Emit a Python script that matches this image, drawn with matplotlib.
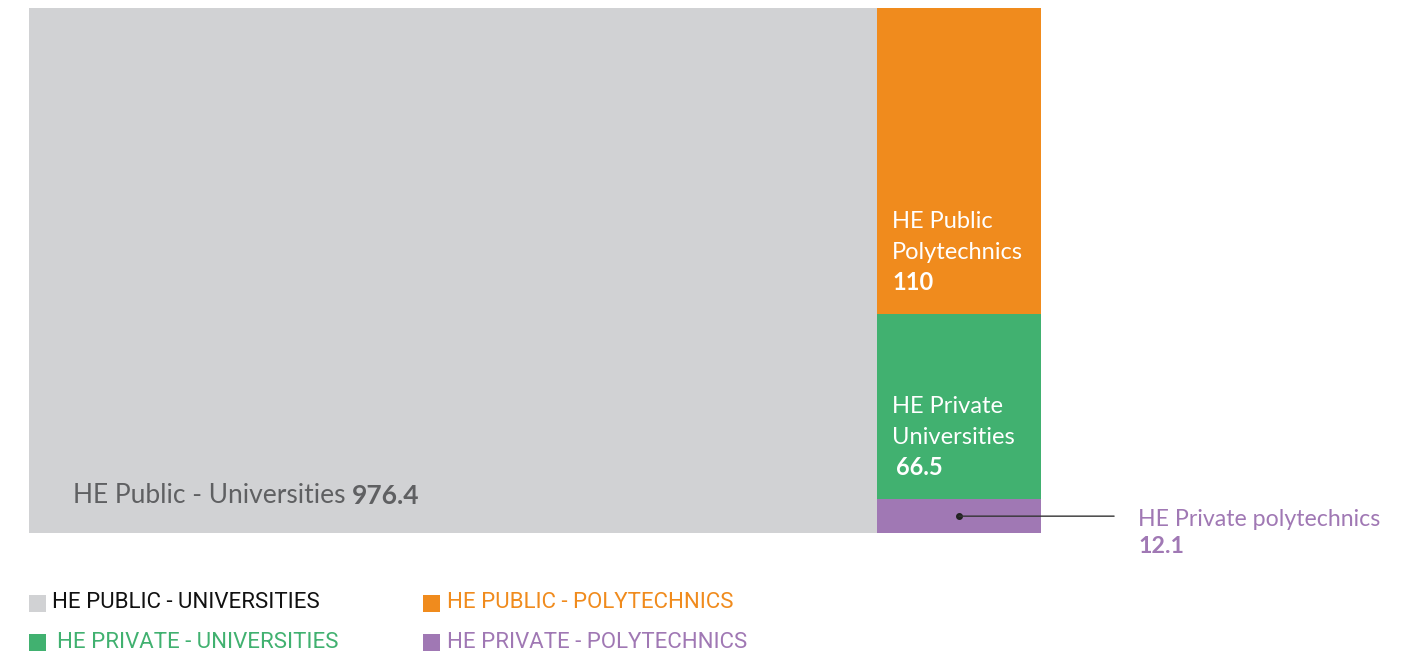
import matplotlib
matplotlib.use("Agg")
import matplotlib.pyplot as plt
from matplotlib.patches import Rectangle

# ---- data ----
categories = ["HE Public - Universities", "HE Public Polytechnics",
              "HE Private Universities", "HE Private polytechnics"]
values = [976.4, 110, 66.5, 12.1]
value_labels = ["976.4", "110", "66.5", "12.1"]
legend_labels = ["HE PUBLIC - UNIVERSITIES", "HE PUBLIC - POLYTECHNICS",
                 "HE PRIVATE - UNIVERSITIES", "HE PRIVATE - POLYTECHNICS"]
colors = ["#D1D2D4", "#F08B1D", "#41B170", "#A078B4"]
legend_text_colors = ["#111111", "#F08B1D", "#41B170", "#A078B4"]

FONT = "Lato"
plt.rcParams["font.family"] = [FONT, "DejaVu Sans"]

W, H = 1418, 657
fig = plt.figure(figsize=(W / 100, H / 100), dpi=100)

# treemap area
ax = fig.add_axes([29 / W, 1 - 533 / H, 1012 / W, 525 / H])
total = sum(values)
ax.set_xlim(0, total)
ax.set_ylim(0, 1)
ax.axis("off")

# big block
ax.bar(0, 1, width=values[0], bottom=0, align="edge", color=colors[0], linewidth=0)

# right column, stacked from bottom: private poly, private uni, public poly
rest = sum(values[1:])
x0 = values[0]
order = [3, 2, 1]
bottoms = {}
b = 0.0
for i in order:
    h = values[i] / rest
    ax.bar(x0, h, width=rest, bottom=b, align="edge", color=colors[i], linewidth=0)
    bottoms[i] = (b, h)
    b += h

# label of big block
t1 = ax.annotate(categories[0] + " ", xy=(0, 0), xytext=(44, 30),
                 textcoords="offset pixels", fontsize=19, color="#5F6062",
                 ha="left", va="baseline")
ax.annotate(value_labels[0], xy=(1, 0), xycoords=t1, xytext=(0, 0),
            textcoords="offset pixels", fontsize=19, color="#5F6062",
            fontweight="bold", ha="left", va="bottom")

# labels in right blocks
def block_label(i, line1, line2, num, num_dx=0):
    bb, hh = bottoms[i]
    base = 24
    ax.annotate(num, xy=(x0, bb), xytext=(15 + num_dx, base),
                textcoords="offset pixels", fontsize=17, color="white",
                fontweight="bold", ha="left", va="baseline")
    ax.annotate(line2, xy=(x0, bb), xytext=(15, base + 31),
                textcoords="offset pixels", fontsize=17, color="white",
                ha="left", va="baseline")
    ax.annotate(line1, xy=(x0, bb), xytext=(15, base + 62),
                textcoords="offset pixels", fontsize=17, color="white",
                ha="left", va="baseline")

block_label(1, "HE Public", "Polytechnics", value_labels[1])
block_label(2, "HE Private", "Universities", value_labels[2], num_dx=4)

# callout for the smallest block
bb, hh = bottoms[3]
cx, cy = x0 + rest / 2, bb + hh / 2
ax.plot([cx], [cy], marker="o", ms=4, color="#222222", clip_on=False)
ax.annotate("", xy=(cx, cy), xytext=(155, 0), textcoords="offset pixels",
            arrowprops=dict(arrowstyle="-", color="#333333", lw=1,
                            shrinkA=0, shrinkB=0))
ax.annotate(categories[3], xy=(cx, cy), xytext=(179, -10),
            textcoords="offset pixels", fontsize=16.7, color=colors[3],
            ha="left", va="baseline", annotation_clip=False)
ax.annotate(value_labels[3], xy=(cx, cy), xytext=(179, -37),
            textcoords="offset pixels", fontsize=16.7, color=colors[3],
            fontweight="bold", ha="left", va="baseline", annotation_clip=False)

# legend (manual, in figure pixel coordinates)
leg_pos = [(29, 603, 52), (423, 603, 447), (29, 642, 57), (423, 642, 447)]
for (sx, cyp, tx), lab, c, tc in zip(leg_pos, legend_labels, colors, legend_text_colors):
    fig.patches.append(Rectangle((sx / W, 1 - (cyp + 8.5) / H), 17 / W, 17 / H,
                                 transform=fig.transFigure, color=c, linewidth=0))
    fig.text(tx / W, 1 - cyp / H, lab, fontsize=16, color=tc, ha="left",
             va="center", family=["Roboto", "DejaVu Sans"])

fig.savefig("out.png", dpi=100)
